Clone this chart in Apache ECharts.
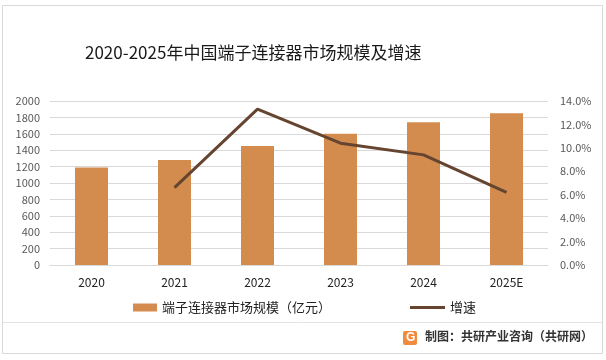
<!DOCTYPE html>
<html><head><meta charset="utf-8">
<script src="https://cdn.jsdelivr.net/npm/echarts@6/dist/echarts.min.js"></script>
<style>html,body{margin:0;padding:0;background:#fff}#c{width:606px;height:360px}</style>
</head><body><div id="c"></div>
<script>
const categories = ['2020','2021','2022','2023','2024','2025E'];
const marketSize = [1190, 1280, 1450, 1600, 1740, 1850];
const growth = [null, 6.6, 13.3, 10.4, 9.4, 6.2];

const chart = echarts.init(document.getElementById('c'), null, {renderer:'canvas'});
const font = '"Microsoft YaHei","Noto Sans CJK SC",sans-serif';
const legendText = {fontFamily:font, fontSize:13, color:'#222'};
chart.setOption({
  backgroundColor:'#fff',
  animation:false,
  title:{text:'2020-2025年中国端子连接器市场规模及增速', left:80, top:39,
    textStyle:{fontFamily:font, fontSize:17, fontWeight:'normal', color:'#1a1a1a'}},
  grid:{left:50, right:58, top:101, bottom:95, containLabel:false},
  legend:[
    {top:296, left:128, itemGap:4, itemWidth:24, itemHeight:8, textStyle:legendText,
     data:[{name:'端子连接器市场规模（亿元）', icon:'rect'}]},
    {top:296, left:405, itemGap:3, itemWidth:35, itemHeight:3, textStyle:legendText,
     data:[{name:'增速', icon:'rect'}]}
  ],
  xAxis:{type:'category', data:categories,
    axisLine:{lineStyle:{color:'#d9d9d9'}}, axisTick:{show:false},
    axisLabel:{fontFamily:font, fontSize:12, color:'#222', margin:11}},
  yAxis:[
    {type:'value', min:0, max:2000, interval:200,
     axisLabel:{fontFamily:font, fontSize:11, color:'#595959', margin:10, formatter:v=>String(v)},
     splitLine:{lineStyle:{color:'#d9d9d9'}}, axisLine:{show:false}},
    {type:'value', min:0, max:14, interval:2,
     axisLabel:{fontFamily:font, fontSize:11, color:'#595959', margin:12,
       formatter:v=>v.toFixed(1)+'%'},
     splitLine:{show:false}, axisLine:{show:false}}
  ],
  series:[
    {name:'端子连接器市场规模（亿元）', type:'bar', data:marketSize, barWidth:33,
     itemStyle:{color:'#D48B4E'}},
    {name:'增速', type:'line', yAxisIndex:1, data:growth, symbol:'none',
     lineStyle:{color:'#654530', width:3}, itemStyle:{color:'#654530'}}
  ],
  graphic:[
    {type:'rect', shape:{x:2.5,y:5.5,width:600,height:348}, style:{fill:'none', stroke:'#d9d9d9', lineWidth:1}, silent:true},
    {type:'line', shape:{x1:3,y1:322.5,x2:602,y2:322.5}, style:{stroke:'#e3e3e3', lineWidth:1}},
    {type:'group', left:403, top:331, children:[
      {type:'rect', shape:{x:0,y:0,width:14,height:14,r:2}, style:{fill:'#F08A3C'}},
      {type:'text', style:{x:3,y:1,text:'G', fill:'#fff', font:'bold 12px sans-serif'}}
    ]},
    {type:'text', left:425, top:330, style:{text:'制图：共研产业咨询（共研网）', fill:'#333', font:'bold 12px "Noto Sans CJK SC",sans-serif'}}
  ]
});
</script></body></html>
